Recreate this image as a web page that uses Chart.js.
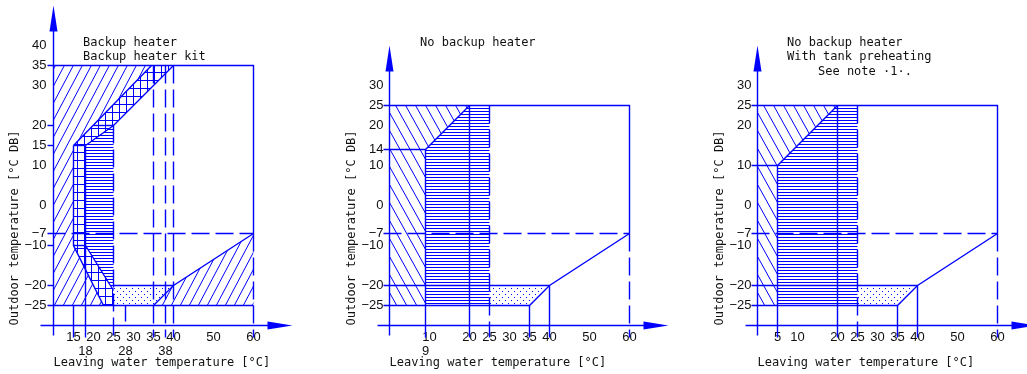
<!DOCTYPE html>
<html>
<head>
<meta charset="utf-8">
<script src="https://cdn.jsdelivr.net/npm/chart.js@4.4.1/dist/chart.umd.min.js"></script>
<style>
  body { margin: 0; width: 1027px; height: 374px; overflow: hidden; background: #fff; position: relative; }
  canvas { position: absolute; top: 0; }
  .note { position: absolute; font: 12px/14px "DejaVu Sans Mono", monospace; color: #111; white-space: pre; }
</style>
</head>
<body>
<canvas id="c1" width="337" height="374" style="left:0"></canvas>
<canvas id="c2" width="368" height="374" style="left:337px"></canvas>
<canvas id="c3" width="322" height="374" style="left:705px"></canvas>
<div class="note" style="left:83px;top:35px">Backup heater
Backup heater kit</div>
<div class="note" style="left:420px;top:35px">No backup heater</div>
<div class="note" style="left:787px;top:35px">No backup heater
With tank preheating</div>
<div class="note" style="left:818px;top:64px">See note ·1·.</div>
<script>
// ---- panel 1: backup heater / backup heater kit ----
const yTicks1 = [40, 35, 30, 20, 15, 10, 0, -7, -10, -20, -25];
const xTicks1 = [15, 18, 20, 25, 28, 30, 35, 38, 40, 50, 60];
const xLow1 = [18, 28, 38]; // labels on the second row
const heatZone1 = [[10, 35], [34.5, 35], [15, 15], [15, -10], [22.5, -25], [10, -25]];
const kitZone1 = [[34.5, 35], [40, 35], [25, 20], [18, 15], [18, -10], [25, -21.25], [25, -25], [22.5, -25], [15, -10], [15, 15]];
const waterZone1 = [[18, 15], [25, 20], [25, -21.25], [18, -10]];
const dotZone1 = [[25, -20], [40, -20], [35, -25], [25, -25]];
const hotZone1 = [[35, -25], [40, -20], [60, -7], [60, -25]];
const solid1 = [
  [[8.5, 35], [60, 35], [60, -7]],
  [[8.5, -25], [60, -25]],
  [[35, -25], [40, -20], [60, -7]],
  [[25, -20], [40, -20]],
  [[15, 15], [34.5, 35]],
  [[18, 15], [25, 20], [40, 35]],
  [[8.5, 20], [10, 20]], [[20, 20], [25, 20]],
  [[8.5, 15], [10, 15]], [[15, 15], [18, 15]],
  [[8.5, -10], [10, -10]], [[15, -10], [18, -10]],
  [[8.5, -20], [10, -20]],
  [[15, 15], [15, -10], [22.5, -25]],
  [[18, 15], [18, -33]],
  [[18, -10], [25, -21.25]],
  [[15, -25], [15, -33]],
  [[28, -25], [28, -29]]
];
const dashed1 = [
  [[8.5, -7], [60, -7]],
  [[25, 20], [25, -33]],
  [[35, 35], [35, -33]],
  [[38, 35], [38, -33]],
  [[40, 35], [40, -33]],
  [[60, -7], [60, -33]]
];

// ---- panel 2: no backup heater ----
const yTicks2 = [30, 25, 20, 14, 10, 0, -7, -10, -20, -25];
const xTicks2 = [9, 10, 20, 25, 30, 35, 40, 50, 60];
const xLow2 = [9];
const heatZone2 = [[0, 25], [20, 25], [9, 14], [9, -25], [0, -25]];
const waterZone2 = [[9, 14], [20, 25], [25, 25], [25, -25], [9, -25]];
const dotZone2 = [[9, -20], [40, -20], [35, -25], [9, -25]];
const solid2 = [
  [[-1.5, 25], [60, 25], [60, -7]],
  [[-1.5, -25], [35, -25], [40, -20], [60, -7]],
  [[-1.5, -20], [40, -20]],
  [[-1.5, 14], [9, 14], [20, 25]],
  [[9, 14], [9, -33]],
  [[20, 25], [20, -33]],
  [[35, -25], [35, -33]],
  [[40, -20], [40, -33]]
];
const dashed2 = [
  [[-1.5, -7], [60, -7]],
  [[25, 25], [25, -33]],
  [[60, -7], [60, -33]]
];

// ---- panel 3: no backup heater, tank preheating ----
const yTicks3 = [30, 25, 20, 10, 0, -7, -10, -20, -25];
const xTicks3 = [5, 10, 20, 25, 30, 35, 40, 50, 60];
const xLow3 = [];
const heatZone3 = [[0, 25], [20, 25], [5, 10], [5, -25], [0, -25]];
const waterZone3 = [[5, 10], [20, 25], [25, 25], [25, -25], [5, -25]];
const dotZone3 = [[5, -20], [40, -20], [35, -25], [5, -25]];
const solid3 = [
  [[-1.5, 25], [60, 25], [60, -7]],
  [[-1.5, -25], [35, -25], [40, -20], [60, -7]],
  [[-1.5, -20], [40, -20]],
  [[-1.5, 10], [5, 10], [20, 25]],
  [[5, 10], [5, -33]],
  [[20, 25], [20, -33]],
  [[35, -25], [35, -33]],
  [[40, -20], [40, -33]]
];
const dashed3 = [
  [[-1.5, -7], [60, -7]],
  [[25, 25], [25, -33]],
  [[60, -7], [60, -33]]
];

const BLUE = '#0000ff';
const INK = '#111';
const MONO = '"DejaVu Sans Mono", monospace';
const NARROW = '"Liberation Sans Narrow", "Liberation Sans", sans-serif';
const LW = 1.4;

// small tiles used as fill patterns
function hatch(w, h, draw) {
  const c = document.createElement('canvas');
  c.width = w; c.height = h;
  const g = c.getContext('2d');
  g.strokeStyle = BLUE; g.fillStyle = BLUE; g.lineWidth = 1;
  draw(g, w, h);
  return g.createPattern(c, 'repeat');
}
const slashFill = hatch(9, 17, (g, w, h) => {
  g.beginPath();
  for (let k = -1; k <= 1; k++) { g.moveTo(k * w, h); g.lineTo(k * w + w, 0); }
  g.stroke();
});
const backFill = hatch(10, 18, (g, w, h) => {
  g.beginPath();
  for (let k = -1; k <= 1; k++) { g.moveTo(k * w, 0); g.lineTo(k * w + w, h); }
  g.stroke();
});
const lineFill = hatch(4, 3, (g, w) => g.fillRect(0, 0, w, 1));
const gridFill = hatch(7, 8, (g, w, h) => { g.fillRect(0, 0, w, 1); g.fillRect(0, 0, 1, h); });
const dotFill = hatch(6, 6, g => { g.fillRect(0, 0, 1, 1); g.fillRect(3, 3, 1, 1); });

const fmt = v => v < 0 ? '\u2212' + (-v) : String(v);
const toXY = pts => pts.map(([x, y]) => ({x, y}));

// axis lines with arrow heads, placed through the scales
const axesPlugin = {
  id: 'axes',
  afterDatasetsDraw(chart, args, o) {
    const {ctx} = chart;
    const x = chart.scales.x, y = chart.scales.y;
    const ax = x.getPixelForValue(o.yAxisAt), ay = y.getPixelForValue(o.xAxisAt);
    const top = y.getPixelForValue(o.yTop), bottom = y.getPixelForValue(o.yBottom);
    const left = x.getPixelForValue(o.xLeft), right = x.getPixelForValue(o.xRight);
    ctx.save();
    ctx.strokeStyle = BLUE; ctx.fillStyle = BLUE; ctx.lineWidth = LW;
    ctx.beginPath();
    ctx.moveTo(ax, bottom); ctx.lineTo(ax, top + 20);
    ctx.moveTo(left, ay); ctx.lineTo(right - 20, ay);
    ctx.stroke();
    ctx.beginPath();
    ctx.moveTo(ax, top); ctx.lineTo(ax - 4, top + 26); ctx.lineTo(ax + 4, top + 26);
    ctx.closePath(); ctx.fill();
    ctx.beginPath();
    ctx.moveTo(right, ay); ctx.lineTo(right - 25, ay - 4); ctx.lineTo(right - 25, ay + 4);
    ctx.closePath(); ctx.fill();
    ctx.restore();
  }
};

function makePanel(id, p) {
  const datasets = [];
  p.zones.forEach(([pts, pattern]) => datasets.push({
    data: toXY(pts), fill: 'shape', backgroundColor: pattern,
    borderColor: 'transparent', borderWidth: 0, pointRadius: 0, clip: false
  }));
  p.solid.forEach(pts => datasets.push({
    data: toXY(pts), fill: false, borderColor: BLUE, borderWidth: LW, pointRadius: 0, clip: false
  }));
  p.dashed.forEach(pts => datasets.push({
    data: toXY(pts), fill: false, borderColor: BLUE, borderWidth: LW, borderDash: [18, 6], pointRadius: 0, clip: false
  }));

  new Chart(document.getElementById(id), {
    type: 'line',
    data: { datasets },
    options: {
      responsive: false,
      animation: false,
      events: [],
      // half-pixel offsets keep the lines sharp
      layout: { padding: { left: 0, top: 5.5, right: p.padRight, bottom: 0 } },
      plugins: { legend: { display: false }, tooltip: { enabled: false }, axes: p.axes },
      scales: {
        x: {
          type: 'linear', min: p.xMin, max: p.xMax,
          grid: { display: false, drawTicks: false }, border: { display: false },
          afterBuildTicks: s => { s.ticks = p.xTicks.map(v => ({ value: v })); },
          afterFit: s => { s.height = 48.5; s.paddingLeft = 0; s.paddingRight = 0; },
          ticks: {
            autoSkip: false, maxRotation: 0, padding: 5, color: INK,
            font: { family: NARROW, size: 13, lineHeight: 1.05 },
            callback: v => p.xLow.includes(v) ? ['', fmt(v)] : fmt(v)
          },
          title: {
            display: true, text: 'Leaving water temperature [°C]', align: 'start', color: INK,
            font: { family: MONO, size: 12 }, padding: { top: 0, bottom: 4 }
          }
        },
        y: {
          type: 'linear', min: -30, max: 50,
          grid: { display: false, drawTicks: false }, border: { display: false },
          afterBuildTicks: s => { s.ticks = p.yTicks.map(v => ({ value: v })); },
          afterFit: s => { s.width = p.yWidth; s.paddingTop = 0; s.paddingBottom = 0; },
          ticks: {
            autoSkip: false, padding: p.yPad, color: INK,
            font: { family: NARROW, size: 13 }, callback: fmt
          },
          title: {
            display: true, text: 'Outdoor temperature [°C DB]', align: 'start', color: INK,
            font: { family: MONO, size: 12 }, padding: { top: 8, bottom: 0 }
          }
        }
      }
    },
    plugins: [axesPlugin]
  });
}

makePanel('c1', {
  xMin: 10, xMax: 70, yWidth: 53.5, padRight: 43.5, yPad: 7,
  xTicks: xTicks1, xLow: xLow1, yTicks: yTicks1,
  zones: [[heatZone1, slashFill], [kitZone1, gridFill], [waterZone1, lineFill], [dotZone1, dotFill], [hotZone1, slashFill]],
  solid: solid1, dashed: dashed1,
  axes: { yAxisAt: 10, xAxisAt: -30, yTop: 50, yBottom: -32.5, xLeft: 6.75, xRight: 69.75 }
});
makePanel('c2', {
  xMin: 0, xMax: 70, yWidth: 52.5, padRight: 35.5, yPad: 6,
  xTicks: xTicks2, xLow: xLow2, yTicks: yTicks2,
  zones: [[heatZone2, backFill], [dotZone2, dotFill], [waterZone2, lineFill]],
  solid: solid2, dashed: dashed2,
  axes: { yAxisAt: 0, xAxisAt: -30, yTop: 40, yBottom: -32.5, xLeft: -3, xRight: 69.75 }
});
makePanel('c3', {
  xMin: 0, xMax: 67, yWidth: 52.5, padRight: 1.5, yPad: 6,
  xTicks: xTicks3, xLow: xLow3, yTicks: yTicks3,
  zones: [[heatZone3, backFill], [dotZone3, dotFill], [waterZone3, lineFill]],
  solid: solid3, dashed: dashed3,
  axes: { yAxisAt: 0, xAxisAt: -30, yTop: 40, yBottom: -32.5, xLeft: -3, xRight: 69.75 }
});
</script>
</body>
</html>
